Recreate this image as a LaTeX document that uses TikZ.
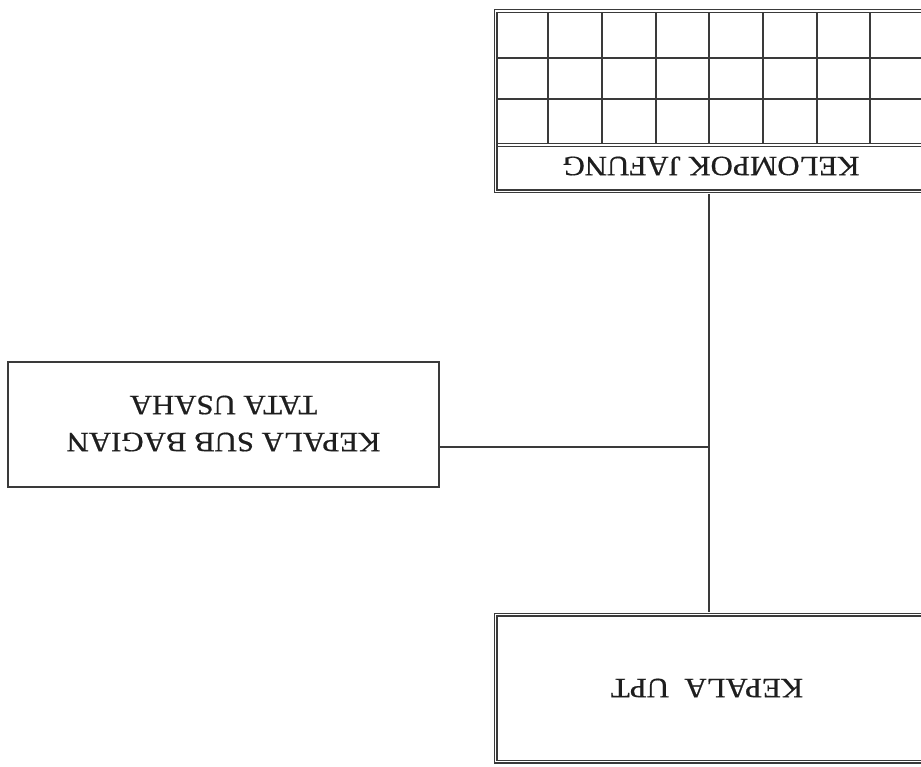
\documentclass[tikz,border=0pt]{standalone}
\usepackage{fontspec}
\setmainfont{Liberation Serif}
\newfontfamily\labfont[FakeStretch=1.1,FakeBold=0.6]{Liberation Serif}
\definecolor{lc}{HTML}{3A3A3A}
\definecolor{tc}{HTML}{1E1E1E}
\begin{document}
\begin{tikzpicture}[x=1pt,y=-1pt,
  ln/.style={draw=lc, line width=1.1pt},
  gl/.style={draw=lc, line width=1.1pt},
  dbox/.style={draw=lc, line width=1.1pt, double=white, double distance=1.8pt,
    rectangle, inner sep=0pt, outer sep=2.4pt},
  sbox/.style={draw=lc, line width=1.1pt, rectangle, inner sep=0pt, outer sep=0pt},
  lbl/.style={rotate=180, font=\labfont\fontsize{28}{37}\selectfont, text=tc, align=center, inner sep=0pt}]
\useasboundingbox (0,0) rectangle (921,767);
\clip (0,0) rectangle (921,767);
% top box (KELOMPOK JAFUNG)
\node[dbox, minimum width=460pt, minimum height=180.5pt] (jafung) at (725.5,101.25) {};
\foreach \xx in {548,602,656,709,763,817,870} \draw[gl] (\xx,13) -- (\xx,143.3);
\foreach \yy in {58,99,143.3,146.3} \draw[gl] (497.4,\yy) -- (921,\yy);
\node[lbl] (jafungtext) at (711,166) {KELOMPOK JAFUNG};
% left box
\node[sbox, minimum width=431pt, minimum height=125pt, rotate=180] (subbag) at (223.5,424.5) {};
\node[lbl] (subbagtext) at (223.5,423.5) {KEPALA SUB BAGIAN\\TATA USAHA};
% bottom box (KEPALA UPT)
\node[dbox, minimum width=460pt, minimum height=147pt] (upt) at (725.5,688) {};
\node[lbl] (upttext) at (707,688) {KEPALA\ \ UPT};
% connectors
\coordinate (j) at (709,447);
\draw[ln] (jafung.south -| j) -- (upt.north -| j);
\draw[ln] (subbag.west |- j) -- (j);
\end{tikzpicture}
\end{document}
